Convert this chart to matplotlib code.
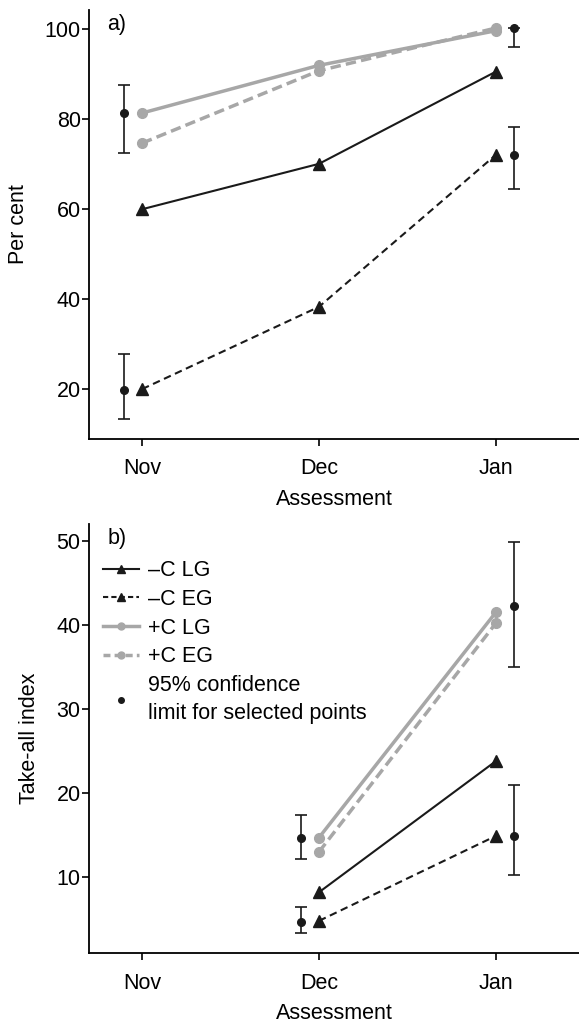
import matplotlib
matplotlib.use('Agg')
import matplotlib.pyplot as plt
from matplotlib.lines import Line2D

plt.rcParams['font.family'] = ['Liberation Sans', 'DejaVu Sans']
plt.rcParams['font.size'] = 15.5

months = ['Nov', 'Dec', 'Jan']
x = [0, 1, 2]

# panel a) per cent
a_mc_lg = [60, 70.1, 90.6]
a_mc_eg = [20, 38.3, 72.1]
a_pc_lg = [81.4, 92.0, 99.7]
a_pc_eg = [74.7, 90.8, 100.3]
# selected points with 95% confidence limits (x, centre, low, high)
a_ci_x = [-0.1, -0.1, 2.1, 2.1]
a_ci_mid = [81.4, 19.9, 100.2, 72.1]
a_ci_lo = [72.5, 13.4, 96.0, 64.6]
a_ci_hi = [87.7, 27.9, 100.2, 78.3]

# panel b) take-all index (no data in Nov)
b_x = [1, 2]
b_mc_lg = [8.2, 23.8]
b_mc_eg = [4.8, 14.9]
b_pc_lg = [14.7, 41.5]
b_pc_eg = [13.0, 40.2]
b_ci_x = [0.9, 0.9, 2.1, 2.1]
b_ci_mid = [14.7, 4.7, 42.3, 14.9]
b_ci_lo = [12.2, 3.3, 35.0, 10.3]
b_ci_hi = [17.4, 6.4, 49.8, 21.0]

grey = '#a7a7a7'
blk = '#1a1a1a'

fig = plt.figure(figsize=(5.79, 10.25), dpi=100)
ax1 = fig.add_axes([0.1537, 0.5717, 0.8463, 0.4185])
ax2 = fig.add_axes([0.1537, 0.0700, 0.8463, 0.4188])


def draw(ax, xs, mlg, meg, plg, peg, cx, cm, clo, chi):
    ax.plot(xs, plg, color=grey, lw=2.5, marker='o', ms=7, label='+C LG', zorder=3)
    ax.plot(xs, peg, color=grey, lw=2.5, ls='--', dashes=(3.0, 1.5), marker='o', ms=7,
            label='+C EG', zorder=3)
    ax.plot(xs, mlg, color=blk, lw=1.5, marker='^', ms=8.5, label='\u2013C LG', zorder=4)
    ax.plot(xs, meg, color=blk, lw=1.5, ls='--', dashes=(3.6, 2.2), marker='^', ms=8.5,
            label='\u2013C EG', zorder=4)
    lo = [m - l for m, l in zip(cm, clo)]
    hi = [h - m for m, h in zip(cm, chi)]
    ax.errorbar(cx, cm, yerr=[lo, hi], fmt='o', color=blk, ms=5.5, lw=1.2,
                capsize=4.5, capthick=1.2, zorder=5)
    for s in ['top', 'right']:
        ax.spines[s].set_visible(False)
    for s in ['left', 'bottom']:
        ax.spines[s].set_linewidth(1.3)
    ax.set_xticks(x)
    ax.set_xticklabels(months)
    ax.set_xlim(-0.30, 2.47)
    ax.tick_params(direction='out', length=5, width=1.2)
    ax.tick_params(axis='y', pad=1)
    ax.tick_params(axis='x', pad=9)
    ax.set_xlabel('Assessment', labelpad=7)


draw(ax1, x, a_mc_lg, a_mc_eg, a_pc_lg, a_pc_eg, a_ci_x, a_ci_mid, a_ci_lo, a_ci_hi)
ax1.set_ylim(8.9, 104.3)
ax1.set_yticks([20, 40, 60, 80, 100])
ax1.set_ylabel('Per cent', labelpad=11)
ax1.text(0.037, 0.99, 'a)', transform=ax1.transAxes, va='top', ha='left')

draw(ax2, b_x, b_mc_lg, b_mc_eg, b_pc_lg, b_pc_eg, b_ci_x, b_ci_mid, b_ci_lo, b_ci_hi)
ax2.set_ylim(0.95, 52.0)
ax2.set_yticks([10, 20, 30, 40, 50])
ax2.set_ylabel('Take-all index', labelpad=12)
ax2.text(0.037, 0.99, 'b)', transform=ax2.transAxes, va='top', ha='left')

handles = [
    Line2D([], [], color=blk, lw=1.5, marker='^', ms=6),
    Line2D([], [], color=blk, lw=1.5, ls='--', dashes=(2.5, 1.5), marker='^', ms=6),
    Line2D([], [], color=grey, lw=2.5, marker='o', ms=5),
    Line2D([], [], color=grey, lw=2.5, ls='--', dashes=(2.0, 1.2), marker='o', ms=5),
    Line2D([], [], color=blk, ls='none', marker='o', ms=4),
]
labels = ['\u2013C LG', '\u2013C EG', '+C LG', '+C EG',
          '95% confidence\nlimit for selected points']
leg = ax2.legend(handles, labels, loc='upper left', bbox_to_anchor=(0.01, 0.936),
                 frameon=False, handlelength=1.7, handletextpad=0.4,
                 labelspacing=0.36, borderaxespad=0, fontsize=15.5)
for t in leg.get_texts():
    t.set_linespacing(1.45)

fig.savefig('out.png', dpi=100)
